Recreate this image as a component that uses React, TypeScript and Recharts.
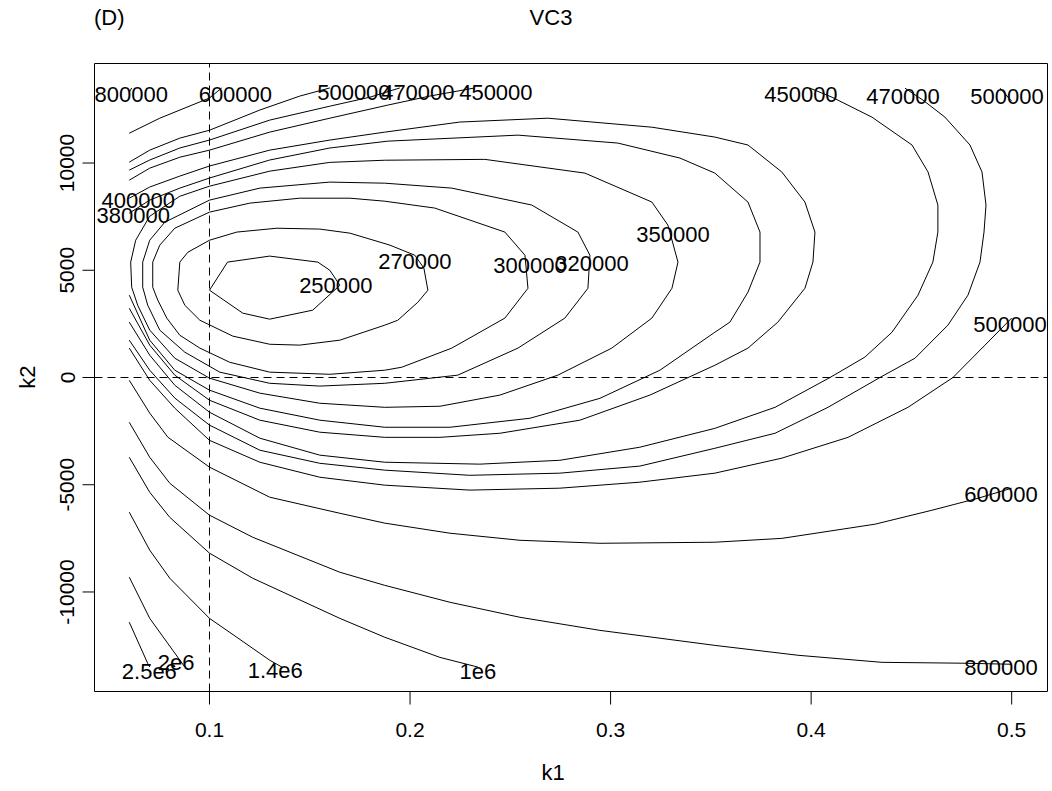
import React from "react";
import { ComposedChart, Line, Scatter, XAxis, YAxis, ReferenceLine } from "recharts";

const FONT = '"Liberation Sans", Arial, Helvetica, sans-serif';

// axis limits and ticks
const xDomain: [number, number] = [0.04266, 0.51786];
const yDomain: [number, number] = [-14640, 14640];
const xTicks = [0.1, 0.2, 0.3, 0.4, 0.5];
const yTicks = [-10000, -5000, 0, 5000, 10000];
const refK1 = 0.1;
const refK2 = 0;

// contour paths, [k1, k2] pairs
const c250 = [[0.1,4070],[0.109,5380],[0.13,5660],[0.154,5380],[0.16,5000],[0.165,4300],[0.1515,3140],[0.13,2720],[0.1166,3000],[0.1,4070]];
const c270 = [[0.0842,4070],[0.0852,5380],[0.0892,5840],[0.1,6400],[0.1136,6780],[0.1336,6960],[0.155,6920],[0.17,6730],[0.19,6170],[0.2024,5700],[0.2069,5100],[0.2089,4070],[0.2039,3510],[0.1939,2670],[0.1874,2440],[0.165,1740],[0.145,1510],[0.13,1550],[0.1116,1930],[0.0952,2670],[0.0877,3370],[0.0842,4070]];
const c300 = [[0.0717,4210],[0.0717,5380],[0.0752,6170],[0.0827,6960],[0.1,7710],[0.1201,8130],[0.145,8360],[0.17,8360],[0.1874,8220],[0.2123,7900],[0.2298,7340],[0.2473,6780],[0.2573,5700],[0.2588,4160],[0.2473,2770],[0.2208,1370],[0.1959,480],[0.1874,340],[0.16,150],[0.13,250],[0.1101,710],[0.0952,1370],[0.0852,1970],[0.0787,2770],[0.0742,3610],[0.0717,4210]];
const c320 = [[0.0667,4210],[0.0667,5380],[0.0702,6400],[0.0777,7240],[0.1,8270],[0.1251,8830],[0.16,9110],[0.1874,9060],[0.2208,8830],[0.2607,8040],[0.2837,6780],[0.2897,5700],[0.2887,4160],[0.2772,2770],[0.2538,1370],[0.2238,110],[0.1874,-270],[0.155,-400],[0.13,-270],[0.1051,250],[0.0877,1180],[0.0752,2210],[0.0692,3370],[0.0667,4210]];
const c350 = [[0.0612,4210],[0.0607,5380],[0.0632,6400],[0.0702,7520],[0.0852,8450],[0.1,8920],[0.13,9620],[0.16,10030],[0.1874,10130],[0.2373,10170],[0.2872,9530],[0.3206,8180],[0.3286,7100],[0.3336,5380],[0.3306,4160],[0.3206,2770],[0.3006,1370],[0.2737,110],[0.2448,-820],[0.2149,-1340],[0.1874,-1390],[0.155,-1200],[0.1251,-730],[0.1,-30],[0.0827,900],[0.0702,2210],[0.0642,3370],[0.0612,4210]];
const c380 = [[0.06,7660],[0.0702,8270],[0.0852,8830],[0.1,9300],[0.13,10140],[0.16,10700],[0.1889,11020],[0.2538,11300],[0.3036,10930],[0.3346,10230],[0.352,9530],[0.3685,8180],[0.3745,6780],[0.3745,5380],[0.3685,3980],[0.3595,2580],[0.352,2110],[0.3246,340],[0.2947,-970],[0.2598,-1900],[0.2199,-2320],[0.1874,-2320],[0.155,-1990],[0.1251,-1430],[0.1,-590],[0.0827,340],[0.0702,1740],[0.06,3840]];
const c400 = [[0.06,8360],[0.0702,8880],[0.0852,9390],[0.1,9860],[0.13,10600],[0.16,11070],[0.1874,11440],[0.2248,11910],[0.2687,12090],[0.3206,11670],[0.352,11210],[0.3685,10840],[0.3854,9580],[0.3969,8180],[0.4019,6780],[0.4009,5380],[0.3969,4160],[0.3834,2580],[0.3685,1370],[0.352,570],[0.3196,-820],[0.2847,-1990],[0.2448,-2600],[0.2149,-2790],[0.1874,-2790],[0.155,-2550],[0.1251,-1990],[0.1,-1060],[0.0827,110],[0.0702,1510],[0.06,3230]];
const c450a = [[0.06,9200],[0.0702,9760],[0.0852,10270],[0.1,10600],[0.13,11440],[0.16,12090],[0.1889,12700],[0.2098,13120],[0.2323,13500]];
const c450b = [[0.3994,13490],[0.4104,13070],[0.4303,12140],[0.4503,10840],[0.4583,9580],[0.4632,8040],[0.4632,6780],[0.4607,5380],[0.4533,3840],[0.4403,2110],[0.4268,950],[0.4094,0],[0.382,-1390],[0.352,-2370],[0.3146,-3250],[0.2747,-3860],[0.2348,-4040],[0.1874,-3950],[0.155,-3620],[0.1251,-2830],[0.1,-1620],[0.0827,-360],[0.0702,1040],[0.06,2580]];
const c470a = [[0.06,9670],[0.0702,10140],[0.0852,10700],[0.1,11070],[0.13,12000],[0.16,12650],[0.18,13070],[0.1949,13500]];
const c470b = [[0.4468,13490],[0.4558,12930],[0.4667,12140],[0.4792,10840],[0.4852,9580],[0.4872,8040],[0.4862,6780],[0.4842,5380],[0.4782,3840],[0.4682,2440],[0.4518,900],[0.4343,0],[0.4084,-1390],[0.382,-2600],[0.352,-3300],[0.3146,-4130],[0.2747,-4460],[0.2298,-4560],[0.1874,-4320],[0.155,-4000],[0.1251,-3390],[0.1,-2220],[0.0827,-960],[0.0702,340],[0.06,1740]];
const c500a = [[0.06,10040],[0.0702,10600],[0.0852,11160],[0.1,11530],[0.1251,12470],[0.145,13120],[0.16,13500]];
const c500b = [[0.4942,13490],[0.5,12880]];
const c500c = [[0.06,1370],[0.0702,-130],[0.0827,-1430],[0.1,-2930],[0.1251,-3950],[0.155,-4650],[0.1874,-5020],[0.2298,-5250],[0.2747,-5160],[0.3146,-4880],[0.352,-4460],[0.3854,-3760],[0.4184,-2790],[0.4483,-1390],[0.4707,0],[0.4867,1510],[0.5,2770]];
const c600a = [[0.06,11390],[0.0752,12090],[0.1,13030],[0.1061,13500]];
const c600b = [[0.06,-130],[0.0702,-1660],[0.0792,-2780],[0.1,-4180],[0.13,-5580],[0.165,-6330],[0.1874,-6790],[0.2199,-7260],[0.2548,-7590],[0.2947,-7730],[0.352,-7680],[0.3854,-7500],[0.4318,-6840],[0.4602,-6190],[0.4832,-5630],[0.5,-5160]];
const c800a = [[0.06,13300],[0.0612,13500]];
const c800b = [[0.06,-2090],[0.0702,-3720],[0.0802,-4930],[0.1,-6420],[0.1216,-7450],[0.165,-9080],[0.1874,-9690],[0.2199,-10480],[0.2548,-11180],[0.2947,-11790],[0.352,-12490],[0.3934,-12950],[0.4353,-13280],[0.4752,-13320],[0.5,-13370]];
const c1e6 = [[0.06,-3720],[0.0702,-5350],[0.0802,-6520],[0.1,-8190],[0.1216,-9360],[0.165,-11230],[0.1874,-12110],[0.2149,-13050],[0.2338,-13500]];
const c14e6 = [[0.06,-6280],[0.0702,-8050],[0.0802,-9360],[0.1,-11230],[0.1136,-12110],[0.13,-13180],[0.1361,-13500]];
const c2e6 = [[0.06,-9310],[0.0702,-11230],[0.0817,-12720],[0.0877,-13500]];
const c25e6 = [[0.06,-11410],[0.0692,-13330],[0.0702,-13500]];

const contours = [c250, c270, c300, c320, c350, c380, c400, c450a, c450b, c470a, c470b,
  c500a, c500b, c500c, c600a, c600b, c800a, c800b, c1e6, c14e6, c2e6, c25e6];

// contour labels
const labelText = ["800000", "600000", "500000", "470000", "450000", "450000", "470000", "500000",
  "400000", "380000", "270000", "250000", "300000", "320000", "350000", "500000", "600000",
  "800000", "2.5e6", "2e6", "1.4e6", "1e6"];
const labelK1 = [0.061, 0.1129, 0.172, 0.2039, 0.2428, 0.3949, 0.4458, 0.4977,
  0.0645, 0.062, 0.2024, 0.163, 0.2598, 0.2907, 0.3311, 0.4992, 0.4947,
  0.4947, 0.07, 0.0834, 0.1328, 0.2338];
const labelK2 = [13236, 13236, 13306, 13306, 13306, 13236, 13143, 13143,
  8293, 7593, 5448, 4305, 5238, 5354, 6707, 2509, -5420,
  -13488, -13675, -13255, -13652, -13698];

const labelRows = labelText.map((text, i) => ({ x: labelK1[i], y: labelK2[i], text }));

const YTick = (props: any) => {
  const { x, y, payload } = props;
  return (
    <text x={x} y={y} transform={`rotate(-90, ${x}, ${y})`} textAnchor="middle"
      fontSize={21} fontFamily={FONT} fill="#000">
      {payload.value}
    </text>
  );
};

const ContourLabel = (props: any) => {
  const { cx, cy, payload } = props;
  return (
    <text x={cx} y={cy} dy="0.36em" textAnchor="middle" fontSize={22} fontFamily={FONT} fill="#000">
      {payload.text}
    </text>
  );
};

export default function App() {
  return (
    <div style={{ position: "absolute", left: 0, top: 0, width: 1052, height: 791, background: "#fff" }}>
      <ComposedChart width={1052} height={791} margin={{ top: 63.5, right: 4.5, left: 34.5, bottom: 39.5 }}>
        <XAxis
          dataKey="x"
          type="number"
          domain={xDomain}
          allowDataOverflow
          ticks={xTicks}
          height={60}
          tickSize={13}
          tickMargin={18}
          axisLine={{ stroke: "#000" }}
          tickLine={{ stroke: "#000" }}
          tick={{ fill: "#000", fontSize: 21, fontFamily: FONT }}
        />
        <YAxis
          dataKey="y"
          type="number"
          domain={yDomain}
          allowDataOverflow
          ticks={yTicks}
          width={60}
          tickSize={12}
          tickMargin={8}
          axisLine={{ stroke: "#000" }}
          tickLine={{ stroke: "#000" }}
          tick={<YTick />}
        />
        <ReferenceLine x={xDomain[1]} stroke="#000" />
        <ReferenceLine y={yDomain[1]} stroke="#000" />
        <ReferenceLine x={refK1} stroke="#000" strokeDasharray="8 5" />
        <ReferenceLine y={refK2} stroke="#000" strokeDasharray="8 5" />
        {contours.map((pts, i) => (
          <Line
            key={i}
            data={pts.map(([x, y]) => ({ x, y }))}
            dataKey="y"
            type="linear"
            stroke="#000"
            strokeWidth={1}
            dot={false}
            activeDot={false}
            isAnimationActive={false}
          />
        ))}
        <Scatter data={labelRows} dataKey="y" shape={<ContourLabel />} isAnimationActive={false} />
      </ComposedChart>
      <svg width={1052} height={791} style={{ position: "absolute", left: 0, top: 0, pointerEvents: "none" }}>
        <text x={94} y={25} fontSize={22} fontFamily={FONT} fill="#000">(D)</text>
        <text x={551} y={25} textAnchor="middle" fontSize={22} fontFamily={FONT} fill="#000">VC3</text>
        <text x={553} y={780} textAnchor="middle" fontSize={22} fontFamily={FONT} fill="#000">k1</text>
        <text x={35} y={377} transform="rotate(-90, 35, 377)" textAnchor="middle" fontSize={22} fontFamily={FONT} fill="#000">k2</text>
      </svg>
    </div>
  );
}
